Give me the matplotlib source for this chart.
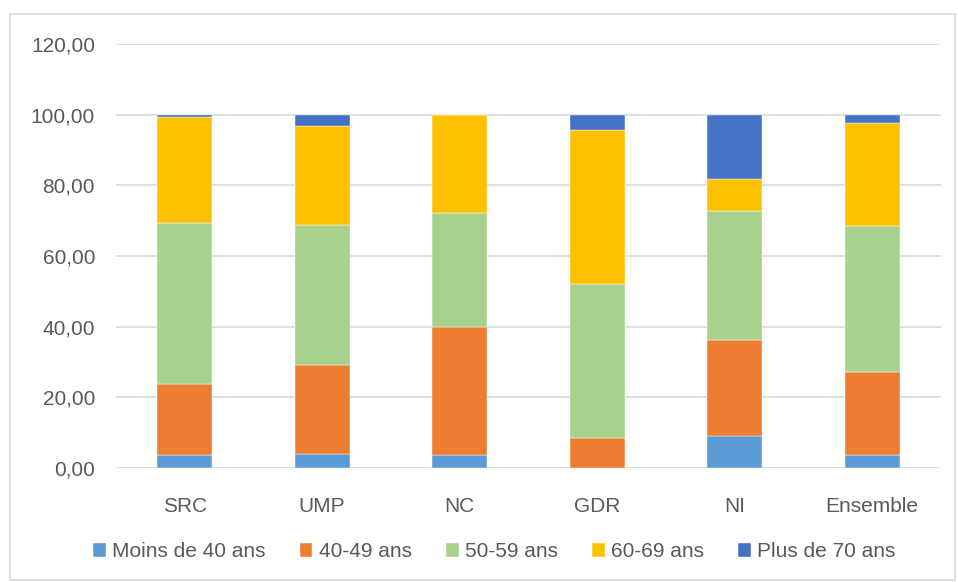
import numpy as np
import matplotlib
matplotlib.use("Agg")
from matplotlib import pyplot as plt
from matplotlib.patches import Rectangle

groups = ["SRC", "UMP", "NC", "GDR", "NI", "Ensemble"]
moins_40 = [3.8, 4.0, 3.8, 0.0, 9.09, 3.7]
ans_40_49 = [20.0, 25.2, 36.1, 8.5, 27.27, 23.5]
ans_50_59 = [45.5, 39.5, 32.2, 43.7, 36.36, 41.2]
ans_60_69 = [30.2, 28.2, 27.9, 43.4, 9.09, 29.2]
plus_70 = [0.5, 3.1, 0.0, 4.4, 18.18, 2.4]
series_labels = ["Moins de 40 ans", "40-49 ans", "50-59 ans", "60-69 ans", "Plus de 70 ans"]
yticks = [0, 20, 40, 60, 80, 100, 120]

colors = ["#5B9BD5", "#ED7D31", "#A9D18E", "#FFC000", "#4472C4"]
plt.rcParams["font.family"] = ["Liberation Sans", "DejaVu Sans"]

fig = plt.figure(figsize=(9.58, 5.82), dpi=100)
ax = fig.add_axes([0.121, 0.196, 0.861, 0.728])

x = np.arange(len(groups))
bottom = np.zeros(len(groups))
for vals, lab, c in zip([moins_40, ans_40_49, ans_50_59, ans_60_69, plus_70], series_labels, colors):
    ax.bar(x, vals, 0.4, bottom=bottom, color=c, label=lab, edgecolor="white", linewidth=0.3, zorder=3)
    bottom += np.array(vals)

ax.set_ylim(0, 120)
ax.set_xlim(-0.5, len(groups) - 0.5)
ax.set_yticks(yticks)
ax.set_yticklabels([f"{v:.2f}".replace(".", ",") for v in yticks])
ax.set_xticks(x)
ax.set_xticklabels(groups)
ax.grid(axis="y", color="#d9d9d9", linewidth=1.2, zorder=0)
for s in ax.spines.values():
    s.set_visible(False)
ax.tick_params(length=0, labelsize=15, colors="#595959", pad=15)
ax.tick_params(axis="x", pad=21)

fig.legend(loc="center", bbox_to_anchor=(0.516, 0.052), ncol=5, frameon=False,
           fontsize=15, handlelength=0.6, handleheight=0.6, handletextpad=0.3,
           columnspacing=1.65, labelcolor="#595959")

fig.patches.append(Rectangle((10 / 958, 2 / 582), 945 / 958, 566 / 582, transform=fig.transFigure,
                             fill=False, edgecolor="#d9d9d9", linewidth=1.2))

fig.savefig("out.png", dpi=100)
